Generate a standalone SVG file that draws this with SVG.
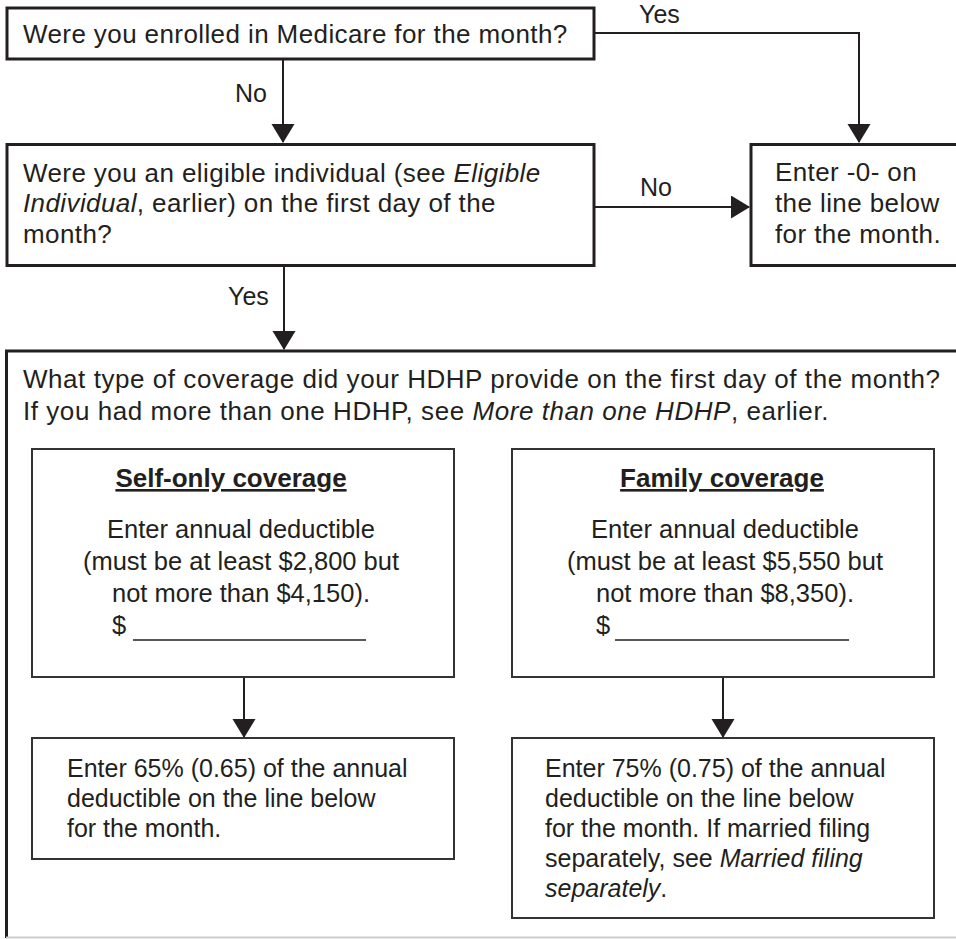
<svg xmlns="http://www.w3.org/2000/svg" width="956" height="939" viewBox="0 0 956 939">
<style>
  text { font-family: "Liberation Sans", Arial, Helvetica, sans-serif; fill: #231f20; }
  .main { font-size: 26px; letter-spacing: 0.4px; }
  .head { font-size: 26px; letter-spacing: 0.55px; }
  .lbl { font-size: 25px; }
  .sub { font-size: 25.5px; }
  .low { font-size: 25px; }
  .h { font-size: 26px; font-weight: bold; text-decoration: underline; }
  .it { font-style: italic; }
  .thick { fill: none; stroke: #231f20; stroke-width: 3; }
  .thin { fill: none; stroke: #333333; stroke-width: 2; }
  .conn { fill: none; stroke: #231f20; stroke-width: 2; }
  .blank { stroke: #231f20; stroke-width: 1.5; }
</style>
<defs>
  <marker id="ah" markerUnits="userSpaceOnUse" markerWidth="20" markerHeight="24" refX="18" refY="11.5" orient="auto">
    <path d="M0,0 L19,11.5 L0,23 z" fill="#231f20"/>
  </marker>
</defs>
<rect width="956" height="939" fill="#ffffff"/>

<g id="connectors">
  <path class="conn" d="M594,33 H859 V142" marker-end="url(#ah)"/>
  <path class="conn" d="M283,59 V142" marker-end="url(#ah)"/>
  <path class="conn" d="M594,207 H749" marker-end="url(#ah)"/>
  <path class="conn" d="M284,266 V349" marker-end="url(#ah)"/>
  <path class="conn" d="M244,677 V737" marker-end="url(#ah)"/>
  <path class="conn" d="M723,677 V737" marker-end="url(#ah)"/>
  <text class="lbl" x="639" y="23">Yes</text>
  <text class="lbl" x="235" y="102">No</text>
  <text class="lbl" x="640" y="196">No</text>
  <text class="lbl" x="228" y="305">Yes</text>
</g>

<g id="medicare">
  <rect class="thick" x="7" y="8" width="587" height="51"/>
  <text class="main" x="23" y="43">Were you enrolled in Medicare for the month?</text>
</g>

<g id="eligible">
  <rect class="thick" x="7" y="144.5" width="587" height="121"/>
  <text class="main" x="23" y="182">Were you an eligible individual (see <tspan class="it">Eligible</tspan></text>
  <text class="main" x="23" y="212"><tspan class="it">Individual</tspan>, earlier) on the first day of the</text>
  <text class="main" x="23" y="243">month?</text>
</g>

<g id="enter-zero">
  <rect class="thick" x="751" y="144.5" width="220" height="121"/>
  <text class="main" x="775" y="181">Enter -0- on</text>
  <text class="main" x="775" y="212">the line below</text>
  <text class="main" x="775" y="243">for the month.</text>
</g>

<g id="coverage">
  <path class="thick" d="M960,351 H6.5 V938"/>
  <line x1="6" y1="937.5" x2="956" y2="937.5" stroke="#cccccc" stroke-width="2"/>
  <text class="head" x="23" y="388">What type of coverage did your HDHP provide on the first day of the month?</text>
  <text class="head" x="23" y="420">If you had more than one HDHP, see <tspan class="it">More than one HDHP</tspan>, earlier.</text>
</g>

<g id="self-only">
  <rect class="thin" x="32" y="449" width="422" height="228"/>
  <text class="h" x="231" y="487" text-anchor="middle">Self-only coverage</text>
  <text class="sub" x="241" y="538" text-anchor="middle">Enter annual deductible</text>
  <text class="sub" x="241" y="570" text-anchor="middle">(must be at least $2,800 but</text>
  <text class="sub" x="241" y="602" text-anchor="middle">not more than $4,150).</text>
  <text class="sub" x="112" y="634">$</text>
  <line class="blank" x1="133" y1="640" x2="366" y2="640"/>
</g>

<g id="family">
  <rect class="thin" x="512" y="449" width="422" height="228"/>
  <text class="h" x="722" y="487" text-anchor="middle">Family coverage</text>
  <text class="sub" x="725" y="538" text-anchor="middle">Enter annual deductible</text>
  <text class="sub" x="725" y="570" text-anchor="middle">(must be at least $5,550 but</text>
  <text class="sub" x="725" y="602" text-anchor="middle">not more than $8,350).</text>
  <text class="sub" x="596" y="634">$</text>
  <line class="blank" x1="615" y1="640" x2="849" y2="640"/>
</g>

<g id="self-result">
  <rect class="thin" x="32" y="738" width="422" height="121"/>
  <text class="low" x="67" y="777">Enter 65% (0.65) of the annual</text>
  <text class="low" x="67" y="807">deductible on the line below</text>
  <text class="low" x="67" y="837">for the month.</text>
</g>

<g id="family-result">
  <rect class="thin" x="512" y="738" width="422" height="180"/>
  <text class="low" x="545" y="777">Enter 75% (0.75) of the annual</text>
  <text class="low" x="545" y="807">deductible on the line below</text>
  <text class="low" x="545" y="837">for the month. If married filing</text>
  <text class="low" x="545" y="867">separately, see <tspan class="it">Married filing</tspan></text>
  <text class="low" x="545" y="897"><tspan class="it">separately</tspan>.</text>
</g>
</svg>
